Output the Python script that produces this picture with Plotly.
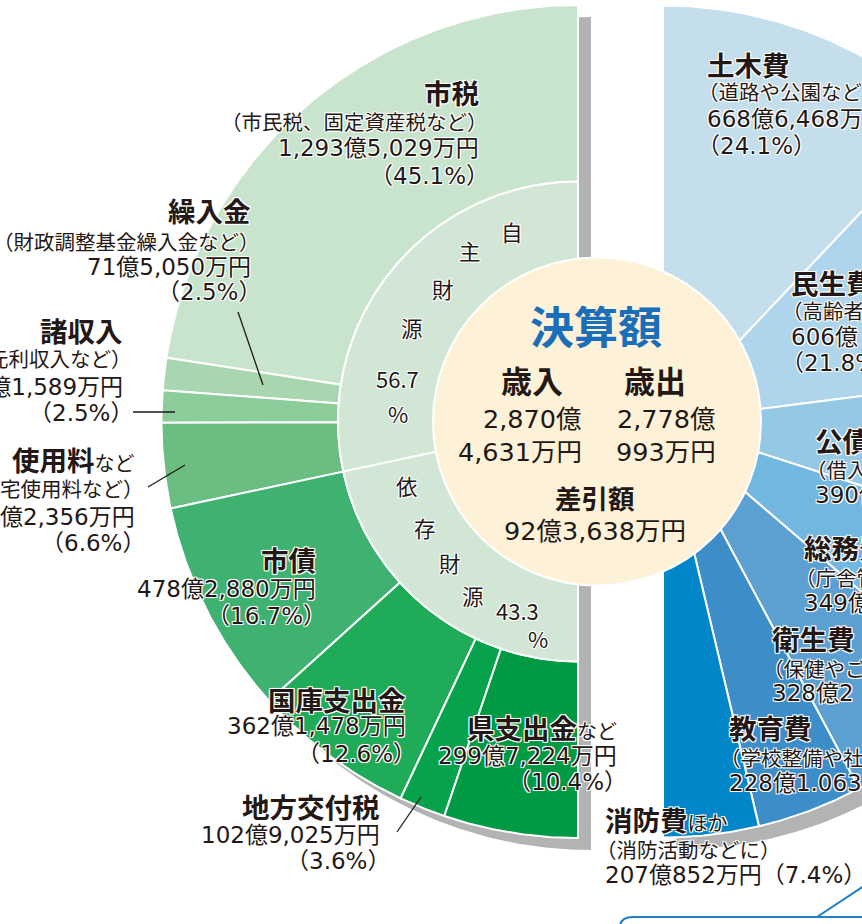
import math
import plotly.graph_objects as go

W, H = 862, 924

# ---------------- data ----------------
# 歳入 (revenue) – left half, counter-clockwise from the top
rev_main = ["市税", "繰入金", "諸収入", "使用料", "市債", "国庫支出金", "地方交付税", "県支出金"]
rev_suffix = ["", "", "", "など", "", "", "", "など"]
rev_pct = [45.1, 2.5, 2.5, 6.6, 16.7, 12.6, 3.6, 10.4]
rev_amount = ["1,293億5,029万円", "71億5,050万円", "71億1,589万円", "189億2,356万円",
              "478億2,880万円", "362億1,478万円", "102億9,025万円", "299億7,224万円"]
rev_note = ["（市民税、固定資産税など）", "（財政調整基金繰入金など）", "（貸付金元利収入など）",
            "（市営住宅使用料など）", "", "", "", ""]
rev_colors = ["#C9E4CD", "#A8D6B0", "#8CCB9A", "#6ABE82", "#3FB272", "#1FAB58", "#06A34C", "#009A44"]

# 自主財源 / 依存財源 (inner ring)
src_name = ["自主財源", "依存財源"]
src_pct = [56.7, 43.3]
src_colors = ["#D1E6D5", "#D1E6D5"]

# 歳出 (expenditure) – right half, clockwise from the top
exp_main = ["土木費", "民生費", "公債費", "総務費", "衛生費", "教育費", "消防費"]
exp_suffix = ["", "", "", "", "", "", "ほか"]
exp_pct = [24.1, 21.8, 14.0, 12.6, 11.8, 8.2, 7.4]
exp_amount = ["668億6,468万円", "606億", "390億", "349億", "328億2", "228億1.063万円", "207億852万円"]
exp_note = ["（道路や公園などに）", "（高齢者福祉などに）", "（借入金の返済に）", "（庁舎管理などに）",
            "（保健やごみ処理などに）", "（学校整備や社会教育などに）", "（消防活動などに）"]
exp_colors = ["#C4DEEC", "#AED5EB", "#95C8E5", "#72B7DF", "#5C9FD1", "#3D8DC9", "#0086C9"]

# center
center_title = "決算額"
center_heads = ["歳入", "歳出"]
center_totals = [["2,870億", "4,631万円"], ["2,778億", "993万円"]]
diff_label = "差引額"
diff_value = "92億3,638万円"

# ---------------- geometry / style ----------------
LC = (578.0, 421.5); L_R = 416.5; RING_R = 240.0
RC = (663.0, 421.5); R_R = 416.0
CREAM_C = (597.0, 421.5); CREAM_R = 164.0
SHADOW = (13.0, 12.0)
TXT = "#231815"
JP = "Noto Sans CJK JP"
NUM = "DejaVu Sans, Noto Sans CJK JP"
HALO = "1px 1px 0 #fff, -1px -1px 0 #fff, 1px -1px 0 #fff, -1px 1px 0 #fff, 0 0 2px #fff"
NOTE_SIZE = 20.5
NUM_SIZE = 23
TITLE_SIZE = 27.5
PAREN_SHIFT = 9  # full-width bracket side bearing


def wedge(cx, cy, r0, r1, a0, a1, step=0.4):
    n = max(2, int(abs(a1 - a0) / step) + 1)
    angs = [a0 + (a1 - a0) * i / (n - 1) for i in range(n)]
    xs = [cx + r1 * math.sin(math.radians(a)) for a in angs]
    ys = [cy - r1 * math.cos(math.radians(a)) for a in angs]
    if r0 > 0:
        xs += [cx + r0 * math.sin(math.radians(a)) for a in reversed(angs)]
        ys += [cy - r0 * math.cos(math.radians(a)) for a in reversed(angs)]
    else:
        xs.append(cx); ys.append(cy)
    xs.append(xs[0]); ys.append(ys[0])
    return xs, ys


def half_pie(values, cx, cy, r0, r1, sign):
    total = sum(values)
    cum = 0.0
    out = []
    for v in values:
        a0 = sign * 180.0 * cum / total
        cum += v
        a1 = sign * 180.0 * cum / total
        out.append(wedge(cx, cy, r0, r1, a0, a1))
    return out


fig = go.Figure()

# shadows
for (cx, cy, r, sign) in [(LC[0], LC[1], L_R, -1), (RC[0], RC[1], R_R, 1)]:
    xs, ys = wedge(cx + SHADOW[0], cy + SHADOW[1], 0, r, 0, sign * 180)
    fig.add_trace(go.Scatter(x=xs, y=ys, mode="lines", fill="toself", fillcolor="#B3B3B3",
                             line=dict(width=0, color="#B3B3B3"), hoverinfo="skip", showlegend=False))

# revenue outer ring
for (xs, ys), col, name in zip(half_pie(rev_pct, LC[0], LC[1], RING_R, L_R, -1), rev_colors, rev_main):
    fig.add_trace(go.Scatter(x=xs, y=ys, mode="lines", fill="toself", fillcolor=col,
                             line=dict(width=2, color="white"), name=name, showlegend=False))
# inner ring
for (xs, ys), col, name in zip(half_pie(src_pct, LC[0], LC[1], 0, RING_R, -1), src_colors, src_name):
    fig.add_trace(go.Scatter(x=xs, y=ys, mode="lines", fill="toself", fillcolor=col,
                             line=dict(width=2, color="white"), name=name, showlegend=False))
# expenditure
for (xs, ys), col, name in zip(half_pie(exp_pct, RC[0], RC[1], 0, R_R, 1), exp_colors, exp_main):
    fig.add_trace(go.Scatter(x=xs, y=ys, mode="lines", fill="toself", fillcolor=col,
                             line=dict(width=2, color="white"), name=name, showlegend=False))

shapes = []
shapes.append(dict(type="circle", xref="x", yref="y",
                   x0=CREAM_C[0] - CREAM_R, x1=CREAM_C[0] + CREAM_R,
                   y0=CREAM_C[1] - CREAM_R, y1=CREAM_C[1] + CREAM_R,
                   fillcolor="#FDF2D8", line=dict(color="white", width=2)))

annotations = []


def txt(x, y, text, size, anchor="center", family=JP, color=TXT, halo=True):
    # compensate the empty half of full-width brackets at the aligned edge
    if anchor == "right" and text.endswith("）"):
        x += PAREN_SHIFT * size / 20.0
    if anchor == "left" and text.startswith("（"):
        x -= PAREN_SHIFT * size / 20.0
    f = dict(family=family, size=size, color=color)
    if halo:
        f["shadow"] = HALO
    annotations.append(dict(x=x, y=y, xref="x", yref="y", text=text, showarrow=False,
                            xanchor=anchor, yanchor="middle", font=f))


def title_text(main, suffix):
    t = "<b>" + main + "</b>"
    if suffix:
        t += "<span style='font-size:20px;font-weight:normal'>" + suffix + "</span>"
    return t


# revenue label layout: x anchor (right aligned), y for title / note / amount / percent
rev_pos = [(481, [92, 121, 148, 176]), (253, [210, 241, 267, 292]), (125, [330, 358, 387, 413]),
           (137, [459, 488, 517, 543]), (318, [559, None, 589, 616]), (408, [699, None, 726, 754]),
           (382, [806, None, 835, 861]), (619, [727, None, 756, 782])]
for i, (x, ys) in enumerate(rev_pos):
    txt(x, ys[0], title_text(rev_main[i], rev_suffix[i]), TITLE_SIZE, "right")
    if ys[1] is not None and rev_note[i]:
        txt(x, ys[1], rev_note[i], NOTE_SIZE, "right")
    txt(x, ys[2], rev_amount[i], NUM_SIZE, "right", NUM)
    txt(x, ys[3], "（%.1f%%）" % rev_pct[i], NUM_SIZE, "right", NUM)

# expenditure labels (left aligned)
exp_pos = [(705, [64, 91, 119, 146]), (789, [282, 310, 337, 363]), (813, [440, 469, 495, None]),
           (802, [547, 577, 603, None]), (770, [638, 668, 693, None]), (727, [727, 757, 783, None]),
           (603, [819, 849, 875, None])]
for i, (x, ys) in enumerate(exp_pos):
    txt(x, ys[0], title_text(exp_main[i], exp_suffix[i]), TITLE_SIZE, "left")
    txt(x, ys[1], exp_note[i], NOTE_SIZE, "left")
    if ys[3] is not None:
        txt(x, ys[2], exp_amount[i], NUM_SIZE, "left", NUM)
        txt(x, ys[3], "（%.1f%%）" % exp_pct[i], NUM_SIZE, "left", NUM)
    else:
        amt = exp_amount[i]
        if amt.endswith("万円"):
            amt += "（%.1f%%）" % exp_pct[i]
        txt(x, ys[2], amt, NUM_SIZE, "left", NUM)

# inner ring labels
ring_pos = [[(512, 231), (470, 250), (443, 288), (412, 327), (397, 378), (398, 413)],
            [(407, 485), (425, 527), (450, 562), (473, 595), (517, 610), (538, 638)]]
for name, pct, pos in zip(src_name, src_pct, ring_pos):
    parts = list(name) + ["%.1f" % pct, "%"]
    for p, (x, y) in zip(parts, pos):
        txt(x, y, p, 22 if p[0].isdigit() or p == "%" else 21.5, "center", JP)

# center texts
txt(596, 325, "<b>" + center_title + "</b>", 44, "center", JP, "#1B6FB8", halo=False)
txt(532, 379, "<b>" + center_heads[0] + "</b>", 31, "center", JP, halo=False)
txt(655, 379, "<b>" + center_heads[1] + "</b>", 31, "center", JP, halo=False)
txt(584, 419, center_totals[0][0], 25.5, "right", NUM, halo=False)
txt(584, 452, center_totals[0][1], 25.5, "right", NUM, halo=False)
txt(666, 419, center_totals[1][0], 25.5, "center", NUM, halo=False)
txt(666, 452, center_totals[1][1], 25.5, "center", NUM, halo=False)
txt(595, 497, "<b>" + diff_label + "</b>", 26.5, "center", JP, halo=False)
txt(595, 531, diff_value, 25.5, "center", NUM, halo=False)

# leader lines
for (x0, y0, x1, y1) in [(238, 312, 263, 385), (133, 412, 175, 412), (148, 487, 185, 465), (397, 832, 421, 797)]:
    shapes.append(dict(type="line", xref="x", yref="y", x0=x0, y0=y0, x1=x1, y1=y1,
                       line=dict(color="#231815", width=1.3)))

# callout bubble edge (bottom right)
shapes.append(dict(type="path", xref="x", yref="y", path="M 620,926 Q 621,917 633,917 L 870,917",
                   line=dict(color="#1E7FCB", width=2)))
shapes.append(dict(type="line", xref="x", yref="y", x0=817, y0=917, x1=870, y1=882,
                   line=dict(color="#1E7FCB", width=2)))

fig.update_layout(
    width=W, height=H, margin=dict(l=0, r=0, t=0, b=0),
    paper_bgcolor="white", plot_bgcolor="white",
    xaxis=dict(range=[0, W], visible=False, fixedrange=True),
    yaxis=dict(range=[H, 0], visible=False, fixedrange=True),
    shapes=shapes, annotations=annotations, showlegend=False,
)

fig.write_html("out.html", config={"displayModeBar": False},
               post_script="document.body.style.margin='0px';document.body.style.overflow='hidden';")
